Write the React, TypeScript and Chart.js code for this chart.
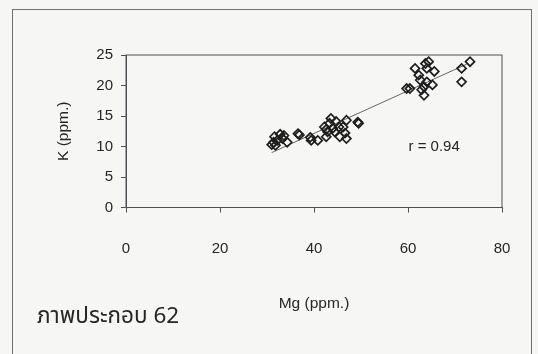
import React, { useEffect, useRef } from "react";
import { Chart, registerables } from "chart.js";

Chart.register(...registerables);

const mgValues = [
  31.0, 31.4, 31.6, 32.2, 32.8, 33.3, 33.6, 34.3, 31.8,
  36.6, 36.9,
  39.2, 39.4, 40.8,
  42.2, 42.6, 42.9, 43.6, 44.0, 43.3, 44.7, 44.4, 45.5, 46.2, 46.9, 46.6, 46.9, 49.5, 49.3, 42.6, 45.3,
  59.7, 60.4, 61.5, 62.3, 62.6, 63.4, 63.4, 63.7, 64.4, 64.0, 64.0, 65.6, 65.2, 62.9,
  71.4, 73.2, 71.4,
];
const kValues = [
  10.3, 10.7, 11.6, 11.0, 12.0, 11.3, 11.8, 10.7, 10.2,
  12.1, 11.9,
  11.5, 11.0, 11.0,
  13.2, 11.6, 12.4, 14.6, 13.0, 13.8, 14.1, 12.4, 11.6, 13.2, 14.3, 12.2, 11.3, 13.8, 14.0, 12.8, 13.2,
  19.5, 19.5, 22.8, 21.7, 20.9, 19.8, 18.4, 23.6, 23.9, 22.8, 20.6, 22.3, 20.1, 19.3,
  22.8, 23.9, 20.6,
];
const trendX = [31, 72.5];
const trendY = [9.0, 23.5];
const xTicks = [0, 20, 40, 60, 80];
const yTicks = [0, 5, 10, 15, 20, 25];
const xTitle = "Mg (ppm.)";
const yTitle = "K (ppm.)";
const rLabel = "r = 0.94";
const rLabelAt = [60.1, 9.9];
const caption = "ภาพประกอบ 62";

const FONT = "'Liberation Sans', Arial, sans-serif";
const INK = "#262626";
const LINE = "#505050";

const frameAndLabel = {
  id: "frameAndLabel",
  afterDatasetsDraw(chart: any) {
    const { ctx, chartArea, scales } = chart;
    ctx.save();
    ctx.strokeStyle = LINE;
    ctx.lineWidth = 1;
    ctx.strokeRect(chartArea.left, chartArea.top, chartArea.right - chartArea.left, chartArea.bottom - chartArea.top);
    ctx.fillStyle = INK;
    ctx.font = `15px ${FONT}`;
    ctx.textAlign = "left";
    ctx.textBaseline = "middle";
    ctx.fillText(rLabel, scales.x.getPixelForValue(rLabelAt[0]), scales.y.getPixelForValue(rLabelAt[1]));
    ctx.restore();
  },
};

export default function App() {
  const ref = useRef<HTMLCanvasElement>(null);
  useEffect(() => {
    const canvas = ref.current!;
    const chart = new Chart(canvas, {
      type: "scatter",
      data: {
        datasets: [
          {
            data: mgValues.map((x, i) => ({ x, y: kValues[i] })),
            pointStyle: "rectRot",
            pointRadius: 4.5,
            pointBorderWidth: 1.7,
            pointBorderColor: "#1e1e1e",
            pointBackgroundColor: "rgba(0,0,0,0)",
            showLine: false,
          },
          {
            type: "line",
            data: trendX.map((x, i) => ({ x, y: trendY[i] })),
            borderColor: "#666",
            borderWidth: 1,
            pointRadius: 0,
            fill: false,
          } as any,
        ],
      },
      options: {
        responsive: false,
        animation: false,
        events: [],
        layout: { padding: { left: 0, top: 55, right: 36, bottom: 0 } },
        plugins: { legend: { display: false }, tooltip: { enabled: false } },
        scales: {
          x: {
            type: "linear",
            min: 0,
            max: 80,
            afterBuildTicks: (s: any) => { s.ticks = xTicks.map((v) => ({ value: v })); },
            afterFit: (s: any) => { s.height = 146.5; },
            grid: { drawOnChartArea: false, tickLength: 5, color: LINE },
            border: { display: true, color: LINE, width: 1 },
            ticks: { color: INK, font: { family: FONT, size: 15 }, padding: 27, maxRotation: 0 },
            title: { display: true, text: xTitle, color: INK, font: { family: FONT, size: 15.5 }, padding: { top: 0, bottom: 41 } },
          },
          y: {
            type: "linear",
            min: 0,
            max: 25,
            afterBuildTicks: (s: any) => { s.ticks = yTicks.map((v) => ({ value: v })); },
            afterFit: (s: any) => { s.width = 126; },
            grid: { drawOnChartArea: false, tickLength: 5, color: LINE },
            border: { display: true, color: LINE, width: 1 },
            ticks: { color: INK, font: { family: FONT, size: 15 }, padding: 8 },
            title: { display: true, text: yTitle, color: INK, font: { family: FONT, size: 15.5 }, padding: { top: 54, bottom: 0 } },
          },
        },
      },
      plugins: [frameAndLabel],
    });
    return () => chart.destroy();
  }, []);

  return (
    <div style={{ position: "fixed", left: 0, top: 0, width: 538, height: 354, background: "#f6f6f4", overflow: "hidden" }}>
      <div style={{ position: "absolute", left: 12, top: 9, width: 520, height: 380, border: "1px solid #707070", boxSizing: "border-box" }} />
      <canvas ref={ref} width={538} height={354} style={{ position: "absolute", left: 0, top: 0 }} />
      <div style={{ position: "absolute", left: 37, top: 302, fontFamily: "'Noto Sans Thai', 'Noto Sans', 'DejaVu Sans', sans-serif", fontSize: 22.5, color: INK, whiteSpace: "nowrap", lineHeight: "28px" }}>
        {caption}
      </div>
    </div>
  );
}
